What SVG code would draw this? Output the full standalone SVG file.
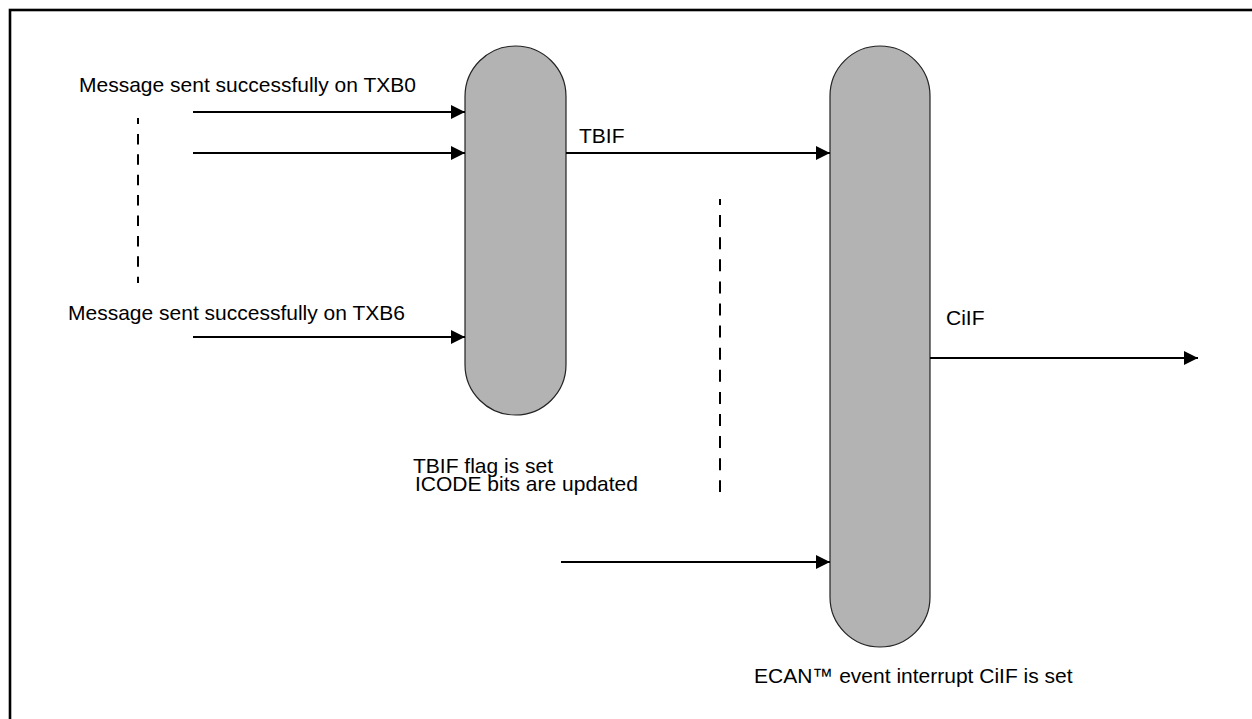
<svg xmlns="http://www.w3.org/2000/svg" width="1252" height="719" viewBox="0 0 1252 719">
  <style>
    .lbl { font-family: "Liberation Sans", Arial, sans-serif; font-size: 21px; fill: #000; }
    .pill { fill: #b3b3b3; stroke: #222; stroke-width: 1.2; }
    .wire { stroke: #000; stroke-width: 2.2; fill: none; marker-end: url(#head); }
    .dash { stroke: #000; stroke-width: 2; fill: none; }
  </style>
  <defs>
    <marker id="head" markerUnits="userSpaceOnUse" markerWidth="14" markerHeight="14" refX="14" refY="7" orient="auto">
      <path d="M0,0 L14,7 L0,14 z" fill="#000"/>
    </marker>
  </defs>

  <rect width="1252" height="719" fill="#fff"/>
  <!-- outer frame (continues past the right and bottom edges) -->
  <rect x="10" y="10" width="1270" height="730" fill="none" stroke="#000" stroke-width="2.6"/>

  <!-- TXB interrupt flag combiner -->
  <g id="tbif-node">
    <rect class="pill" x="465" y="46" width="101" height="369" rx="50.5" ry="50.5"/>
    <text class="lbl" x="413" y="473">TBIF flag is set</text>
    <text class="lbl" x="415" y="491">ICODE bits are updated</text>
  </g>

  <!-- ECAN event interrupt combiner -->
  <g id="ecan-node">
    <rect class="pill" x="830" y="46" width="100" height="601" rx="50" ry="50"/>
    <text class="lbl" x="754" y="683">ECAN™ event interrupt CiIF is set</text>
  </g>

  <g id="source-labels">
    <text class="lbl" x="79" y="92">Message sent successfully on TXB0</text>
    <text class="lbl" x="68" y="320">Message sent successfully on TXB6</text>
  </g>

  <g id="connectors">
    <line class="wire" x1="193" y1="112" x2="465" y2="112"/>
    <line class="wire" x1="193" y1="153" x2="465" y2="153"/>
    <line class="wire" x1="193" y1="337" x2="465" y2="337"/>
    <line class="wire" x1="566" y1="153" x2="830" y2="153"/>
    <text class="lbl" x="579" y="143">TBIF</text>
    <line class="wire" x1="561" y1="562" x2="830" y2="562"/>
    <line class="wire" x1="930" y1="358" x2="1198" y2="358"/>
    <text class="lbl" x="946" y="325">CiIF</text>
    <!-- ellipsis markers for the omitted inputs -->
    <line class="dash" x1="138" y1="118" x2="138" y2="283" stroke-dasharray="10.5 9.9" stroke-dashoffset="4.5"/>
    <line class="dash" x1="720" y1="199" x2="720" y2="492" stroke-dasharray="12 10.1" stroke-dashoffset="6"/>
  </g>
</svg>
